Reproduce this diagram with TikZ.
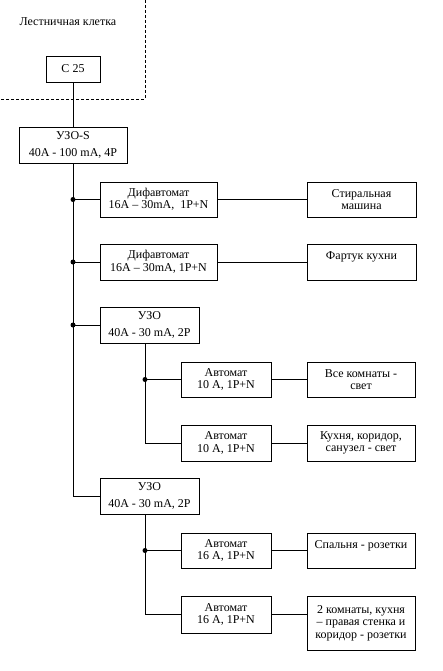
\documentclass[tikz,border=0pt]{standalone}
\usepackage{fontspec}
\setmainfont{Liberation Serif}
\usepackage{tikz}

\begin{document}
\begin{tikzpicture}[
    x=1pt, y=-1pt, % единица = 1 пиксель, ось y вниз
    font=\fontsize{12}{12.5}\selectfont,
    box/.style={draw, line width=0.8pt, align=center, inner sep=0pt},
    uzobox/.style={box, font=\fontsize{12}{17}\selectfont},
    wire/.style={line width=0.8pt},
    junction/.style={circle, fill, inner sep=0pt, minimum size=5pt}
    ]
    % --- рамка рисунка ---
    \useasboundingbox (0,0) rectangle (443,671);

    % 1. граница лестничной клетки
    \draw[wire, dash pattern=on 3pt off 2pt] (145,0) -- (145,99) -- (0,99);
    \node[anchor=west] (title) at (16,22) {Лестничная клетка};

    % 2. вводной автомат и УЗО
    \node[box, minimum width=54, minimum height=26] (c25) at (73,69) {С 25};
    \node[uzobox, minimum width=108, minimum height=36] (uzoS) at (73,145) {УЗО-S\\40A - 100 mA, 4P};

    % 3. дифавтоматы и нагрузки
    \node[box, minimum width=117, minimum height=35] (dif1) at (158.5,199.5) {Дифавтомат\\16A – 30mA,\ \ 1P+N};
    \node[box, minimum width=109, minimum height=35] (stiral) at (361.5,199.5) {Стиральная\\машина};
    \node[box, minimum width=117, minimum height=36] (dif2) at (158.5,262) {Дифавтомат\\16A – 30mA, 1P+N};
    \node[box, minimum width=109, minimum height=36] (fartuk) at (361.5,262) {Фартук кухни\\\mbox{}};

    % 4. УЗО групп освещения и розеток
    \node[uzobox, minimum width=99, minimum height=36] (uzo1) at (149.5,325) {УЗО\\40A - 30 mA, 2P};
    \node[uzobox, minimum width=99, minimum height=36] (uzo2) at (149.5,496) {УЗО\\40A - 30 mA, 2P};

    % 5. автоматы и нагрузки
    \node[box, minimum width=90, minimum height=35] (avt1) at (226,379.5) {Автомат\\10 A, 1P+N};
    \node[box, minimum width=108, minimum height=35] (vse) at (361,379.5) {Все комнаты -\\свет};
    \node[box, minimum width=90, minimum height=36] (avt2) at (226,443) {Автомат\\10 A, 1P+N};
    \node[box, minimum width=108, minimum height=36] (kukh) at (361,443) {Кухня, коридор,\\санузел - свет};
    \node[box, minimum width=90, minimum height=35] (avt3) at (226,550.5) {Автомат\\16 A, 1P+N};
    \node[box, minimum width=108, minimum height=35] (spal) at (361,550.5) {Спальня - розетки\\\mbox{}};
    \node[box, minimum width=90, minimum height=37] (avt4) at (226,614.5) {Автомат\\16 A, 1P+N};
    \node[box, minimum width=108, minimum height=54] (komn) at (361,623) {2 комнаты, кухня\\– правая стенка и\\коридор - розетки};

    % --- соединения ---
    \draw[wire] (c25.south) -- (uzoS.north);
    \draw[wire] (uzoS.south) |- (uzo2.west);
    \foreach \n in {dif1, dif2, uzo1} {
        \node[junction] (j\n) at (uzoS.south |- \n.west) {};
        \draw[wire] (j\n.center) -- (\n.west);
    }
    \draw[wire] (dif1.east) -- (stiral.west);
    \draw[wire] (dif2.east) -- (fartuk.west);

    % ветви от УЗО
    \coordinate (u1) at (145,343);
    \coordinate (u2) at (145,514);
    \draw[wire] (u1) |- (avt2.west);
    \draw[wire] (u2) |- (avt4.west);
    \node[junction] (javt1) at (u1 |- avt1.west) {};
    \node[junction] (javt3) at (u2 |- avt3.west) {};
    \draw[wire] (javt1.center) -- (avt1.west);
    \draw[wire] (javt3.center) -- (avt3.west);

    \draw[wire] (avt1.east) -- (vse.west);
    \draw[wire] (avt2.east) -- (kukh.west);
    \draw[wire] (avt3.east) -- (spal.west);
    \draw[wire] (avt4.east) -- (avt4.east -| komn.west);

\end{tikzpicture}
\end{document}
